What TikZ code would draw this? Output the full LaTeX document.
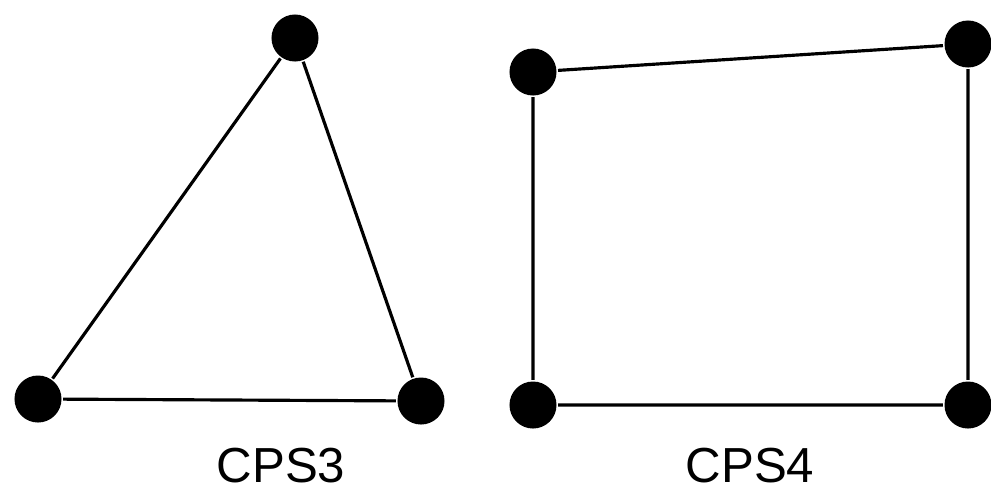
\documentclass[tikz,border=0pt]{standalone}
\usepackage{fontspec}
\setmainfont{Liberation Sans}
\usepackage{tikz}
\usetikzlibrary{positioning}

\begin{document}
\begin{tikzpicture}[x=0.01cm, y=-0.01cm, line width=0.9pt,
  dot/.style={circle,inner sep=0pt,minimum size=0.47cm,fill=black},
  elem/.style={font=\fontsize{14}{16}\selectfont}]
\useasboundingbox (0,0) rectangle (991,499);

% three-node element
\node [dot] (t1) at (295,38) {};
\node [dot] (t2) at (38,399) {};
\node [dot] (t3) at (421,401) {};
\draw (t1) -- (t2) -- (t3) -- (t1);

% four-node element
\node [dot] (q1) at (533,72) {};
\node [dot] (q2) at (968,44) {};
\node [dot] (q3) at (968,405) {};
\node [dot] (q4) at (533,405) {};
\draw (q1) -- (q2) -- (q3) -- (q4) -- (q1);

\node [elem] (cps3) at (281,466) {CPS3};
\node [elem] (cps4) at (750,466) {CPS4};

\end{tikzpicture}
\end{document}
